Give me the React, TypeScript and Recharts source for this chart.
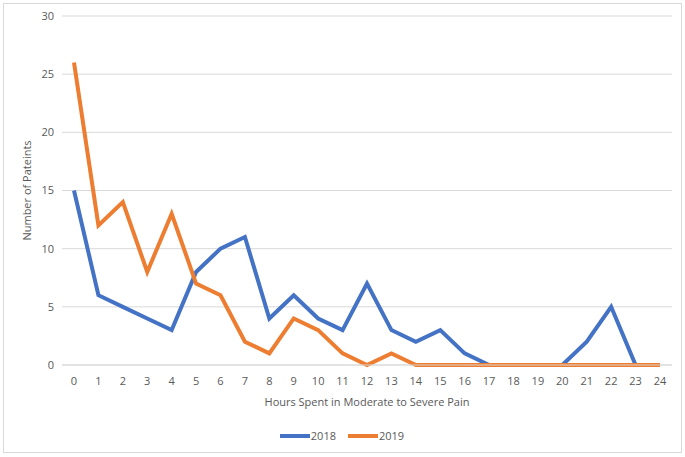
import { CartesianGrid, Legend, Line, LineChart, XAxis, YAxis } from 'recharts';

// hours spent in moderate to severe pain (0..24)
const hours = [
  '0', '1', '2', '3', '4', '5', '6', '7', '8', '9', '10', '11', '12',
  '13', '14', '15', '16', '17', '18', '19', '20', '21', '22', '23', '24',
];
const patients2018 = [15, 6, 5, 4, 3, 8, 10, 11, 4, 6, 4, 3, 7, 3, 2, 3, 1, 0, 0, 0, 0, 2, 5, 0, 0];
const patients2019 = [26, 12, 14, 8, 13, 7, 6, 2, 1, 4, 3, 1, 0, 1, 0, 0, 0, 0, 0, 0, 0, 0, 0, 0, 0];
const yTicks = [0, 5, 10, 15, 20, 25, 30];

const data = hours.map((h, i) => ({ hour: h, y2018: patients2018[i], y2019: patients2019[i] }));

const FONT = '"Open Sans", "Liberation Sans", sans-serif';
const TEXT = '#595959';

function LegendContent({ payload }: any) {
  return (
    <div style={{ display: 'flex', justifyContent: 'center', gap: 12, fontFamily: FONT, fontSize: 11, color: TEXT, paddingLeft: 12 }}>
      {(payload || []).map((p: any) => (
        <div key={p.value} style={{ display: 'flex', alignItems: 'center' }}>
          <span style={{ display: 'inline-block', width: 30, height: 4, background: p.color, marginRight: 1 }} />
          <span>{p.value}</span>
        </div>
      ))}
    </div>
  );
}

export default function App() {
  return (
    <div style={{ position: 'absolute', left: 0, top: 0, width: 685, height: 457, background: '#fff' }}>
      <div style={{ position: 'absolute', left: 3, top: 3, width: 677, height: 448, border: '1px solid #d9d9d9' }} />
      <LineChart width={685} height={457} data={data} margin={{ top: 16, right: 13, left: 0, bottom: 32 }}>
        <CartesianGrid vertical={false} stroke="#d9d9d9" />
        <XAxis
          dataKey="hour"
          interval={0}
          padding={{ left: 12, right: 12 }}
          tickLine={false}
          axisLine={{ stroke: '#d9d9d9' }}
          tick={{ fill: TEXT, fontSize: 11, fontFamily: FONT, dy: 4 }}
          height={45}
          label={{ value: 'Hours Spent in Moderate to Severe Pain', position: 'insideBottom', offset: 4, fill: TEXT, fontSize: 11, fontFamily: FONT }}
        />
        <YAxis
          width={62}
          domain={[0, 30]}
          ticks={yTicks}
          axisLine={false}
          tickLine={false}
          tick={{ fill: TEXT, fontSize: 11, fontFamily: FONT }}
          label={{ value: 'Number of Pateints', angle: -90, position: 'insideLeft', offset: 27, fill: TEXT, fontSize: 11, fontFamily: FONT, style: { textAnchor: 'middle' } }}
        />
        <Legend verticalAlign="bottom" wrapperStyle={{ bottom: 14 }} content={<LegendContent />} />
        <Line type="linear" dataKey="y2018" name="2018" stroke="#4472C4" strokeWidth={4} dot={false} isAnimationActive={false} />
        <Line type="linear" dataKey="y2019" name="2019" stroke="#ED7D31" strokeWidth={4} dot={false} isAnimationActive={false} />
      </LineChart>
    </div>
  );
}
